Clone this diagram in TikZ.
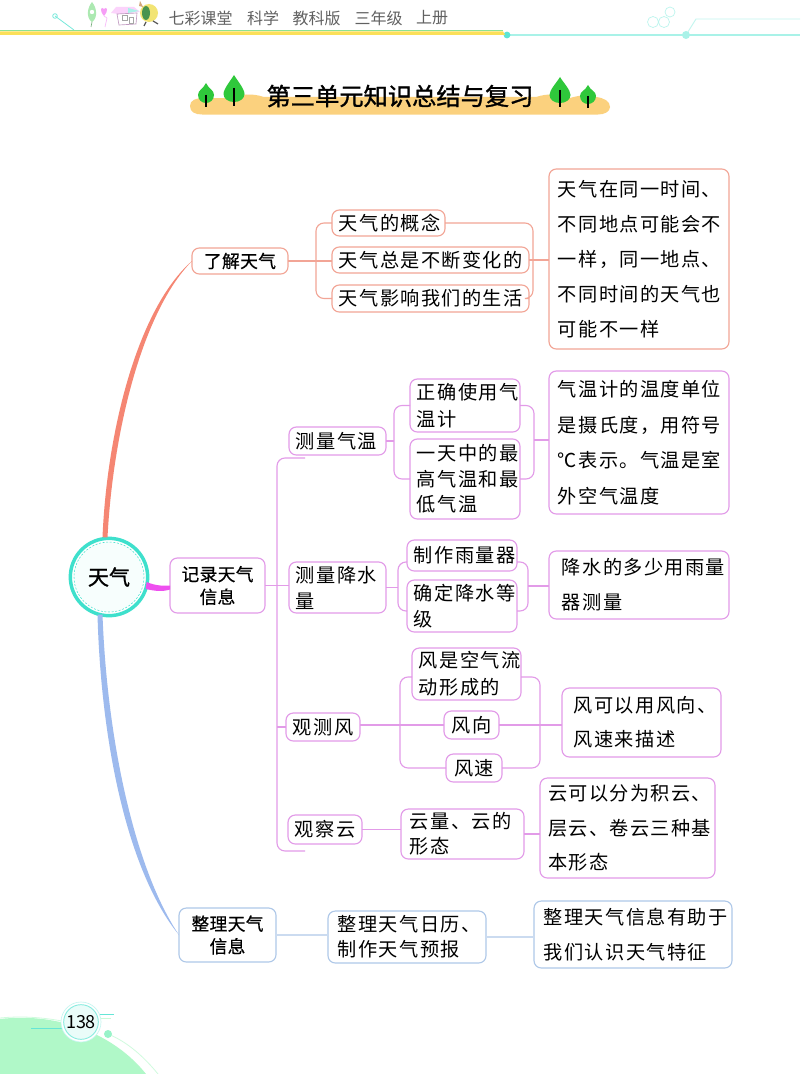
\documentclass[tikz,border=0pt]{standalone}
\usepackage{fontspec}
\setmainfont{Noto Sans CJK SC}
\newfontfamily\bodyf[LetterSpace=7]{Noto Sans CJK SC}
\newfontfamily\headf[LetterSpace=2,FakeBold=0.6]{Noto Sans CJK SC}
\newfontfamily\boldf[FakeBold=1.2]{Noto Sans CJK SC}
\newfontfamily\lightf{Noto Sans CJK SC}
\usetikzlibrary{calc}
\definecolor{coralL}{HTML}{F2A596}
\definecolor{coralS}{HTML}{F58673}
\definecolor{pinkL}{HTML}{E29BE8}
\definecolor{magS}{HTML}{EE4FEF}
\definecolor{blueL}{HTML}{AFC8E8}
\definecolor{blueS}{HTML}{9DBAEE}
\definecolor{tealC}{HTML}{3EE0CC}
\definecolor{cyanL}{HTML}{A9F2E8}
\definecolor{bandO}{HTML}{FBD17E}
\definecolor{treeG}{HTML}{2FC83B}
\definecolor{footG}{HTML}{B0F8C8}
\tikzset{
  x=0.75pt,y=-0.75pt,
  boxb/.style={draw,rounded corners=5.5pt,line width=0.85pt,fill=white,outer sep=0pt,inner ysep=0pt,inner xsep=5.2pt,align=left,text=black},
  coralbox/.style={boxb,draw=coralL},
  pinkbox/.style={boxb,draw=pinkL},
  bluebox/.style={boxb,draw=blueL},
  kaisp/.style={font=\bodyf\fontsize{14.4}{#1}\selectfont},
  kaisp/.default=19,
  headt/.style={font=\headf\fontsize{13.3}{17}\selectfont,align=center},
  conC/.style={draw=coralL,line width=0.85pt,rounded corners=6pt},
  conP/.style={draw=pinkL,line width=0.85pt,rounded corners=6pt},
  conB/.style={draw=blueL!65,line width=0.85pt},
  topt/.style={font=\lightf\fontsize{12}{14}\selectfont,text=black!62,inner sep=0pt,anchor=center},
}
\newcommand{\bx}[7]{% name, x1,y1,x2,y2, style, text
  \pgfmathsetmacro{\bxw}{(#4-#2)*0.75}
  \pgfmathsetmacro{\bxh}{(#5-#3)*0.75}
  \pgfmathsetmacro{\bxt}{\bxw-10.4}
  \node[#6,minimum width=\bxw pt,minimum height=\bxh pt,text width=\bxt pt] (#1) at ({(#2+#4)/2},{(#3+#5)/2}) {#7};
}
\newcommand{\ins}[1]{\hspace*{#1pt}}
\newcommand{\tree}[5]{% x, top y, bottom y, half width, stem top
  \fill[treeG] (#1,#2) .. controls (#1+#4*0.35,#2+6) and (#1+#4,#3-13) .. (#1+#4,#3-8) .. controls (#1+#4,#3-3) and (#1+#4*0.5,#3) .. (#1,#3) .. controls (#1-#4*0.5,#3) and (#1-#4,#3-3) .. (#1-#4,#3-8) .. controls (#1-#4,#3-13) and (#1-#4*0.35,#2+6) .. (#1,#2) -- cycle;
  \draw[black,line width=0.8pt] (#1,#5) -- (#1,#3+4);
}
\begin{document}
\begin{tikzpicture}
\useasboundingbox (0,0) rectangle (800,1074);
\fill[white] (0,0) rectangle (800,1074);
\begin{scope}
\clip (0,0) rectangle (800,1074);

% ---- header
\draw[cyanL,line width=0.9pt] (507,35) -- (800,35);
\draw[cyanL!70,line width=0.7pt] (686,35) -- (696,19) -- (800,19);
\fill[tealC!85] (507,35) circle (3.4);
\fill[cyanL] (686,35) circle (4);
\draw[tealC!70,line width=0.6pt] (55,16) -- (74,30);
\draw[tealC!70,line width=0.6pt] (55,16) circle (2.3);
\draw[cyanL!80,line width=0.5pt] (670,12) circle (5) (653,22) circle (5.5) (664,22) circle (5.5);
\fill[treeG!55!white] (0,29.8) rectangle (503,31.5);
\fill[bandO!70!yellow] (0,31.5) -- (503,31.5) -- (505,34.8) -- (0,34.8) -- cycle;
% decorative figures
\fill[treeG!40!white] (92,2) .. controls (97,8) and (98,18) .. (92,22) .. controls (86,18) and (87,8) .. (92,2) -- cycle;
\fill[white] (92,12) circle (2.2);
\draw[treeG!60!black!60,line width=0.5pt] (92,22) -- (91,27);
\fill[magS!55!white] (104,16) .. controls (99,10) and (101,6) .. (104,9) .. controls (107,6) and (109,10) .. (104,16) -- cycle;
\draw[magS!40!white,line width=0.5pt] (104,16) -- (107,18) -- (105,27);
\fill[magS!25!white] (111,13) -- (116,7) -- (134,7) -- (140,12) -- (118,14) -- cycle;
\fill[cyanL] (128,8) -- (139,11) -- (128,13) -- cycle;
\draw[magS!35!gray!70,line width=0.5pt] (117,14) -- (137,13) -- (136,24) -- (119,25) -- cycle;
\draw[black!35,line width=0.4pt] (122,15) rectangle (127,20) (129,17) rectangle (133,23);
\fill[brown!35!yellow!60!white] (149,13) circle (9);
\fill[treeG!60!black!80] (146,13) ellipse (4 and 7);
\draw[black!65,line width=0.9pt] (146,22) -- (144,26) (153,21) -- (158,24);
\fill[brown!70!white] (140,1) -- (143,7) -- (139,6) -- cycle;

\node[topt] (t1) at (200.5,18) {七彩课堂};
\node[topt] (t2) at (263,18) {科学};
\node[topt] (t3) at (316.5,18) {教科版};
\node[topt] (t4) at (378.5,18) {三年级};
\node[topt] (t5) at (432,18) {上册};

% ---- title
\fill[bandO] (190,106) .. controls (190,100) and (196,98) .. (204,98) -- (232,98) .. controls (240,94) and (252,93) .. (264,97) -- (536,97) .. controls (548,93) and (560,94) .. (570,98) .. controls (580,95) and (590,94) .. (596,97) .. controls (604,98) and (610,101) .. (610,107) .. controls (610,112) and (604,114.5) .. (598,114.5) -- (202,114.5) .. controls (195,114.5) and (190,112) .. (190,106) -- cycle;
\tree{206}{83}{103}{8}{95}
\tree{234}{75}{102}{10.5}{88}
\tree{560}{77}{103}{10.5}{90}
\tree{588}{85}{104}{8}{96}
\node[font=\boldf\fontsize{18.2}{22}\selectfont,inner sep=0pt] (title) at (400,96) {第三单元知识总结与复习};

% ---- nodes
\fill[white] (109,577) circle (40);
\draw[tealC,line width=0.4pt,dash pattern=on 1.5pt off 1.2pt,fill=tealC!4] (109,577) circle (35);
\node[circle,draw=tealC,line width=2.6pt,inner sep=0pt,minimum size=58pt,outer sep=0pt,font=\boldf\fontsize{15.8}{18}\selectfont] (hub) at (109,577) {天气};

\bx{know}{192}{248}{288}{274}{coralbox,headt}{\centering 了解天气}
\bx{rec}{170}{558}{265}{613}{pinkbox,headt}{\centering 记录天气\\信息}
\bx{org}{179}{908}{276}{962}{bluebox,headt}{\centering 整理天气\\信息}

\bx{k1}{332}{210}{445}{236}{coralbox,kaisp}{天气的概念}
\bx{k2}{332}{247}{529}{273}{coralbox,kaisp}{天气总是不断变化的}
\bx{k3}{332}{285}{529}{312}{coralbox,kaisp}{天气影响我们的生活}
\bx{kb}{549}{169}{729}{349}{coralbox,kaisp=26.2}{\ins{1.5}天气在同一时间、\\\ins{1.5}不同地点可能会不\\\ins{1.5}一样，同一地点、\\\ins{1.5}不同时间的天气也\\\ins{1.5}可能不一样}

\bx{qw}{289}{427}{386}{455}{pinkbox,kaisp}{测量气温}
\bx{qw1}{410}{379}{520}{432}{pinkbox,kaisp=20}{正确使用气\\温计}
\bx{qw2}{410}{439}{520}{519}{pinkbox,kaisp=19}{一天中的最\\高气温和最\\低气温}
\bx{qwb}{549}{371}{729}{514}{pinkbox,kaisp=26.8}{\ins{1.5}气温计的温度单位\\\ins{1.5}是摄氏度，用符号\\\ins{1.5}℃表示。气温是室\\\ins{1.5}外空气温度}

\bx{js}{289}{562}{386}{613}{pinkbox,kaisp=19.5}{测量降水\\量}
\bx{js1}{407}{540}{517}{571}{pinkbox,kaisp}{制作雨量器}
\bx{js2}{407}{580}{517}{632}{pinkbox,kaisp=19}{确定降水等\\级}
\bx{jsb}{549}{551}{729}{619}{pinkbox,kaisp=26.2}{\ins{4.5}降水的多少用雨量\\\ins{4.5}器测量}

\bx{wind}{286}{713}{360}{741}{pinkbox,kaisp}{观测风}
\bx{w1}{412}{648}{521}{700}{pinkbox,kaisp=20}{风是空气流\\动形成的}
\bx{w2}{444}{711}{499}{739}{pinkbox,kaisp,align=center}{\centering 风向}
\bx{w3}{446}{754}{502}{782}{pinkbox,kaisp,align=center}{\centering 风速}
\bx{wb}{562}{688}{721}{757}{pinkbox,kaisp=25.5}{\ins{3.7}风可以用风向、\\\ins{3.7}风速来描述}

\bx{cl}{288}{815}{362}{844}{pinkbox,kaisp}{观察云}
\bx{c1}{401}{809}{524}{859}{pinkbox,kaisp=19}{\ins{1.5}云量、云的\\\ins{1.5}形态}
\bx{cb}{540}{778}{715}{878}{pinkbox,kaisp=26}{\ins{0.8}云可以分为积云、\\\ins{0.8}层云、卷云三种基\\\ins{0.8}本形态}

\bx{o1}{328}{911}{486}{963}{bluebox,kaisp=19}{\ins{2.2}整理天气日历、\\\ins{2.2}制作天气预报}
\bx{ob}{534}{901}{732}{968}{bluebox,kaisp=26.2}{\ins{2.2}整理天气信息有助于\\\ins{2.2}我们认识天气特征}

% ---- main curves
\fill[coralS] ($(hub.north)+(-6.5,-1)$) .. controls (107,430) and (138,308) .. (know.west) .. controls (142,312) and (113,432) .. ($(hub.north)+(-1.5,-1)$) -- cycle;
\fill[magS] ($(hub.east)+(-1,5)$) .. controls (156,586) and (164,586) .. (rec.west) -- ($(rec.west)+(0,4)$) .. controls (162,592) and (155,591) .. ($(hub.east)+(-2,12)$) -- cycle;
\fill[blueS] ($(hub.south)+(-11.5,-1)$) .. controls (101,742) and (127,871) .. (org.west) .. controls (134,868) and (107,738) .. ($(hub.south)+(-6.5,-1)$) -- cycle;

% ---- coral connectors
\coordinate (kj) at (316,261);
\coordinate (kz) at (533,260);
\draw[conC] (know.east) -- (k2.west |- know.east);
\draw[conC] (k1.west) -- (kj |- k1.west) -- (kj |- k3.west) -- (k3.west);
\draw[conC] (k1.east) -- (kz |- k1.east) -- (kz |- k3.east) -- (k3.east);
\draw[conC] (k2.east) -- (kb.west |- k2.east);

% ---- trunk
\coordinate (tr) at (277,586);
\coordinate (trTop) at (305,458);
\coordinate (trBot) at (305,851);
\draw[conP] (trTop) -- (tr |- trTop) -- (tr |- trBot) -- (trBot);
\draw[conP] (rec.east) -- (js.west |- rec.east);
\draw[conP] (tr |- wind.west) -- (wind.west);

% ---- temperature
\coordinate (qa) at (394,441);
\coordinate (qz) at (534,440);
\draw[conP] (qw.east) -- (qa |- qw.east);
\draw[conP] (qw1.west) -- (qa |- qw1.west) -- (qa |- qw2.west) -- (qw2.west);
\draw[conP] (qw1.east) -- (qz |- qw1.east) -- (qz |- qw2.east) -- (qw2.east);
\draw[conP] (qz) -- (qwb.west |- qz);

% ---- rain
\coordinate (ja) at (398,588);
\coordinate (jz) at (528,586);
\coordinate (jt) at (0,562);
\coordinate (jb) at (0,611);
\draw[conP] (js.east) -- (ja |- js.east);
\draw[conP] (js1.west |- jt) -- (ja |- jt) -- (ja |- jb) -- (js2.west |- jb);
\draw[conP] (js1.east |- jt) -- (jz |- jt) -- (jz |- jb) -- (js2.east |- jb);
\draw[conP] (jz) -- (jsb.west |- jz);

% ---- wind
\coordinate (wa) at (400,725);
\coordinate (wz) at (540,725);
\coordinate (wt) at (0,677);
\draw[conP] (wind.east |- w2.west) -- (w2.west);
\draw[conP] (w2.east) -- (wb.west |- w2.east);
\draw[conP] (w1.west |- wt) -- (wa |- wt) -- (wa |- w3.west) -- (w3.west);
\draw[conP] (w1.east |- wt) -- (wz |- wt) -- (wz |- w3.east) -- (w3.east);

% ---- cloud
\draw[conP] (cl.east) -- (c1.west |- cl.east);
\draw[conP] (c1.east) -- (cb.west |- c1.east);

% ---- organise
\draw[conB] (org.east) -- (o1.west |- org.east);
\draw[conB] (o1.east) -- (ob.west |- o1.east);

% ---- footer
\fill[footG] (0,1019) .. controls (60,1012) and (115,1035) .. (146,1074) -- (0,1074) -- cycle;
\draw[footG!60!white,line width=0.6pt] (0,1018) .. controls (20,1016) and (40,1017) .. (62,1021);
\draw[footG!60!white,line width=0.6pt] (108,1034) .. controls (128,1042) and (145,1058) .. (158,1074);
\fill[footG!80!tealC] (108,1034) circle (4);
\draw[tealC!80,line width=0.7pt] (31,1028) -- (65,1028);
\draw[tealC!80,line width=0.7pt] (95,1014) -- (114,1014);
\draw[footG!70!white,line width=0.6pt] (95,1018) -- (111,1018);
\draw[tealC!30,line width=0.5pt,fill=white] (81,1022) circle (20);
\node[circle,draw=tealC!60,line width=0.7pt,fill=cyanL!25,minimum size=26pt,inner sep=0pt,font=\fontsize{13.5}{15}\selectfont] (page) at (81,1022) {138};
\end{scope}
\end{tikzpicture}
\end{document}
